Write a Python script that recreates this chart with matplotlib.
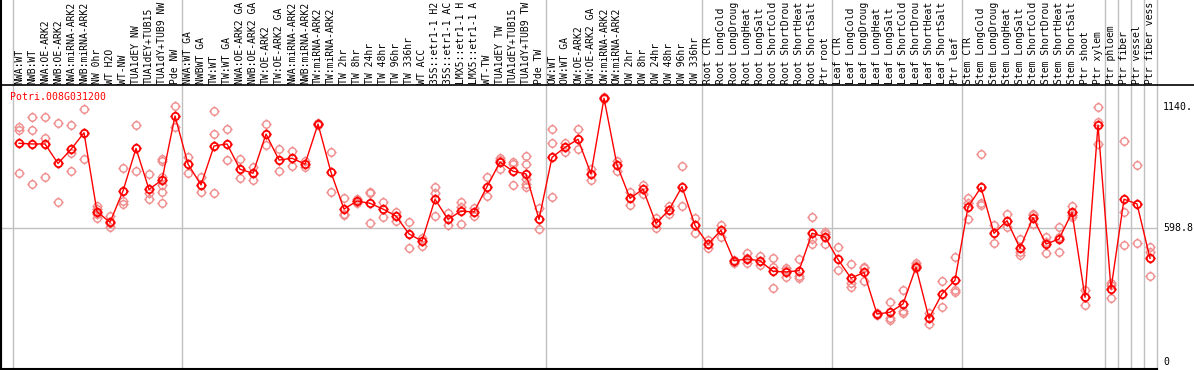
import matplotlib
matplotlib.use("Agg")
import matplotlib.pyplot as plt
from matplotlib.path import Path
from matplotlib.transforms import blended_transform_factory

gene = "Potri.008G031200"

labels = [
    "NWA:WT", "NWB:WT", "NWA:OE-ARK2", "NWB:OE-ARK2", "NWA:miRNA-ARK2", "NWB:miRNA-ARK2",
    "NW 0hr", "WT H2O", "WT-NW", "TUA1dEY NW", "TUA1dEY+TUB15", "TUA1dY+TUB9 NW", "Pde NW",
    "NWA:WT GA", "NWBWT GA", "TW:WT", "TW:WT GA", "NWA:OE-ARK2 GA", "NWB:OE-ARK2 GA",
    "TW:OE-ARK2", "TW:OE-ARK2 GA", "NWA:miRNA-ARK2", "NWB:miRNA-ARK2", "TW:miRNA-ARK2",
    "TW:miRNA-ARK2", "TW 2hr", "TW 8hr", "TW 24hr", "TW 48hr", "TW 96hr", "TW 336hr",
    "WT ACC", "35S::etr1-1 H2", "35S::etr1-1 AC", "LMX5::etr1-1 H", "LMX5::etr1-1 A",
    "WT-TW", "TUA1dEY TW", "TUA1dEY+TUB15", "TUA1dY+TUB9 TW", "Pde TW",
    "OW:WT", "OW:WT GA", "OW:OE-ARK2", "OW:OE-ARK2 GA", "OW:miRNA-ARK2", "OW:miRNA-ARK2",
    "OW 2hr", "OW 8hr", "OW 24hr", "OW 48hr", "OW 96hr", "OW 336hr",
    "Root CTR", "Root LongCold", "Root LongDroug", "Root LongHeat", "Root LongSalt",
    "Root ShortCold", "Root ShortDrou", "Root ShortHeat", "Root ShortSalt", "Ptr root",
    "Leaf CTR", "Leaf LongCold", "Leaf LongDroug", "Leaf LongHeat", "Leaf LongSalt",
    "Leaf ShortCold", "Leaf ShortDrou", "Leaf ShortHeat", "Leaf ShortSalt", "Ptr leaf",
    "Stem CTR", "Stem LongCold", "Stem LongDroug", "Stem LongHeat", "Stem LongSalt",
    "Stem ShortCold", "Stem ShortDrou", "Stem ShortHeat", "Stem ShortSalt", "Ptr shoot",
    "Ptr xylem", "Ptr phloem", "Ptr fiber", "Ptr vessel", "Ptr fiber vess",
]

means = [
    976, 973, 973, 886, 949, 1023, 670, 623, 763, 953, 770, 812, 1098,
    883, 790, 964, 973, 860, 842, 1017, 901, 909, 883, 1062, 846, 682, 718, 708,
    682, 651, 571, 539, 726, 636, 673, 669, 782, 892, 851, 839, 636,
    913, 958, 994, 839, 1177, 879, 730, 771, 618, 678, 782, 609,
    525, 587, 451, 459, 451, 404, 401, 407, 574, 557,
    457, 373, 399, 213, 221, 258, 422, 194, 303, 364,
    691, 779, 574, 630, 507, 644, 526, 548, 667, 288,
    1058, 325, 726, 705, 462,
]

replicates = [
    [1050, 1035, 842], [1092, 1034, 792], [1092, 998, 824], [1067, 712],
    [1056, 931, 852], [1128, 904], [696, 681, 660, 644], [651, 618, 600],
    [867, 718, 705], [1058, 852], [839, 752, 725], [904, 898, 824, 790, 760, 708],
    [1143, 1050],
    [916, 845], [824, 757], [1119, 1016, 752], [1038, 901], [904, 819], [871, 810],
    [1062, 968], [949, 852], [941, 873], [897, 869], [1065, 1059], [937, 758],
    [730, 660, 657], [726, 711], [760, 752, 618], [715, 645], [667, 630],
    [625, 507], [551, 519], [779, 752, 651], [663, 609], [715, 693, 614],
    [685, 651], [824, 740], [912, 901, 860], [894, 883, 788],
    [921, 883, 815, 794, 779], [685, 591],
    [1038, 976, 734], [979, 939], [1038, 949], [860, 812], [1181, 1172],
    [898, 854], [760, 700], [790, 749], [644, 599], [697, 659], [873, 697],
    [641, 574],
    [544, 507], [612, 559], [454, 442], [484, 462, 442], [472, 432],
    [462, 421, 328], [417, 410, 380], [457, 383, 373], [645, 548, 526],
    [578, 571, 524],
    [511, 408], [437, 350, 335], [425, 417, 362], [219, 209], [265, 194, 186],
    [320, 228, 219], [439, 432, 417], [219, 167], [362, 243], [466, 320, 310],
    [730, 708, 636], [927, 708, 700], [611, 532], [660, 600], [548, 492, 477],
    [659, 656, 615], [559, 536, 484], [600, 559, 489], [696, 655, 648],
    [320, 253],
    [1137, 1073, 973], [353, 343, 283], [986, 670, 521], [879, 529],
    [514, 492, 383],
]

group_bounds = [-0.5, 12.5, 40.5, 52.5, 62.5, 72.5, 83.5, 84.5, 85.5, 86.5, 87.5]
ref_value = 598.8
ytick_vals = [1140, 598.8, 0]
ytick_labels = ["1140.", "598.8", "0"]

W, H = 1194, 370
fig = plt.figure(figsize=(W / 100, H / 100), dpi=100)
ax = fig.add_axes([1 / W, 1 / H, 1156 / W, 284 / H])
ax.set_xlim(-18 / 13, (1157 - 19) / 13)
ax.set_ylim(-32.6, 1236.4)
ax.set_xticks([])
ax.set_yticks([])
for s in ["top", "right"]:
    ax.spines[s].set_visible(False)
for s in ["left", "bottom"]:
    ax.spines[s].set_color("black")
    ax.spines[s].set_linewidth(1.5)

mono = "DejaVu Sans Mono"
grey = "#c0c0c0"

# marker: circle with small outward ticks
circ = Path.unit_circle()
verts = list(circ.vertices)
codes = list(circ.codes)
for dx, dy in [(1, 0), (-1, 0), (0, 1), (0, -1)]:
    verts += [(dx * 1.0, dy * 1.0), (dx * 1.4, dy * 1.4)]
    codes += [Path.MOVETO, Path.LINETO]
marker = Path(verts, codes)

bt = blended_transform_factory(ax.transData, fig.transFigure)
for b in group_bounds:
    ax.plot([b, b], [0, 1], color=grey, lw=1.0, transform=bt, clip_on=False, zorder=0)
ax.axhline(ref_value, color=grey, lw=1.0, zorder=0)

# top border line across the figure, and left border over full height
fig.add_artist(plt.Line2D([0, 1], [285 / H, 285 / H], color="black", lw=1.2,
                          transform=fig.transFigure))
fig.add_artist(plt.Line2D([1.2 / W, 1.2 / W], [0, 1], color="black", lw=1.5,
                          transform=fig.transFigure))

x = list(range(len(means)))
for i, reps in enumerate(replicates):
    ax.plot([i] * len(reps), reps, ls="none", marker=marker, ms=7.4,
            mfc="none", mec="#f08c8c", mew=1.0, zorder=2)
ax.plot(x, means, color="red", lw=1.0, marker=marker, ms=7.4,
        mfc="none", mec="red", mew=1.3, zorder=3)

for i, lab in enumerate(labels):
    ax.text(i, (H - 84) / H, lab, rotation=90, ha="center", va="bottom",
            transform=bt, family=mono, fontsize=7.0, color="black", clip_on=False)

ax.text(10 / W, (H - 97) / H, gene, transform=fig.transFigure, ha="left",
        va="center", family=mono, fontsize=7.1, color="red")

bt2 = blended_transform_factory(fig.transFigure, ax.transData)
for v, t in zip(ytick_vals, ytick_labels):
    ax.text(1163 / W, v, t, transform=bt2, ha="left", va="center",
            family=mono, fontsize=7.1, color="black", clip_on=False)

fig.savefig("out.png", dpi=100)
